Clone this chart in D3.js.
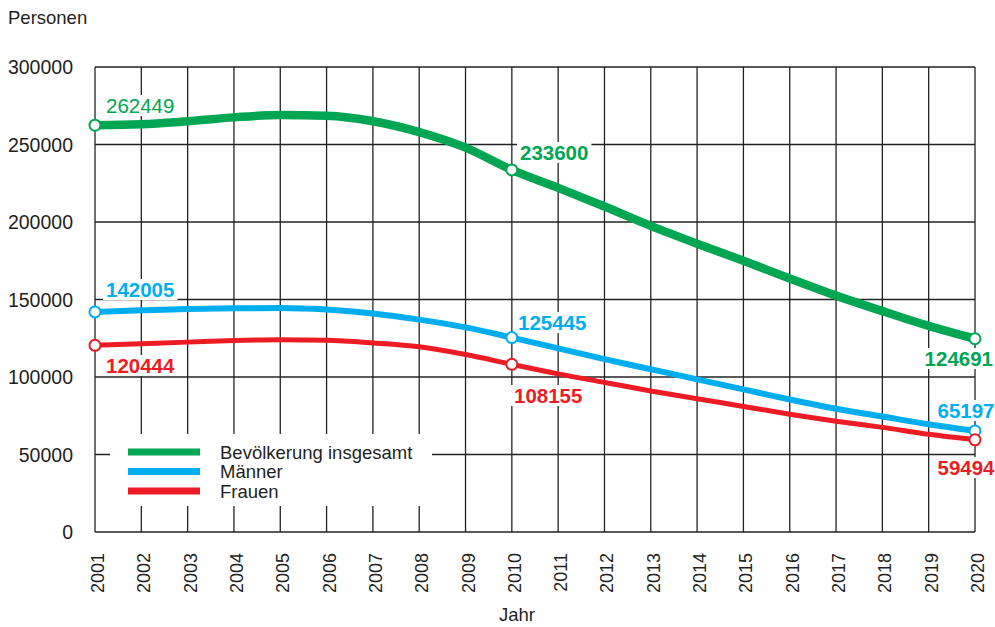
<!DOCTYPE html>
<html>
<head>
<meta charset="utf-8">
<script src="https://cdn.jsdelivr.net/npm/d3@7"></script>
<style>
  body { margin: 0; background: #fff; }
  text { font-family: "Liberation Sans", Arial, sans-serif; }
</style>
</head>
<body>
<svg width="995" height="627" id="mainsvg"></svg>
<script>
const years = d3.range(2001, 2021);
const total = [262449, 263000, 265000, 267500, 269000, 268500, 265000, 258000, 248000, 233600,
               222000, 210000, 197500, 186000, 175000, 163500, 152500, 142500, 133000, 124691];
const men   = [142005, 143000, 143800, 144300, 144500, 143500, 141000, 137000, 132000, 125445,
               118500, 111500, 105000, 98500, 92000, 85500, 79500, 74500, 69500, 65197];
const women = [120444, 121500, 122500, 123500, 124000, 123700, 122000, 119500, 114500, 108155,
               102000, 96500, 91000, 86000, 81000, 76000, 71500, 67500, 63000, 59494];
const yTicks = [0, 50000, 100000, 150000, 200000, 250000, 300000];

const series = [
  {name: "Bevölkerung insgesamt", values: total, color: "#00a651", width: 8.5},
  {name: "Männer", values: men, color: "#00aeef", width: 6},
  {name: "Frauen", values: women, color: "#ed1c24", width: 5}
];

const svg = d3.select('#mainsvg');
const x = d3.scaleLinear().domain([2001, 2020]).range([95, 975]);
const y = d3.scaleLinear().domain([0, 300000]).range([532, 67]);

// grid
const grid = svg.append('g').attr('stroke', '#222').attr('stroke-width', 1.3);
grid.selectAll('line.v').data(years).join('line')
  .attr('x1', d => x(d)).attr('x2', d => x(d))
  .attr('y1', y(300000)).attr('y2', y(0));
grid.selectAll('line.h').data(yTicks).join('line')
  .attr('x1', x(2001)).attr('x2', x(2020))
  .attr('y1', d => y(d)).attr('y2', d => y(d));

// y labels
svg.append('g').selectAll('text').data(yTicks).join('text')
  .attr('x', 73).attr('y', d => y(d) + 7)
  .attr('text-anchor', 'end').attr('font-size', 19.5).attr('fill', '#231f20')
  .text(d => d);

// x labels
svg.append('g').selectAll('text').data(years).join('text')
  .attr('transform', d => `translate(${x(d) + 9},553) rotate(-90)`)
  .attr('text-anchor', 'end').attr('font-size', 18).attr('fill', '#231f20')
  .text(d => d);

svg.append('text').attr('x', 8).attr('y', 24).attr('font-size', 18.5).attr('fill', '#231f20').text('Personen');
svg.append('text').attr('x', 517).attr('y', 621).attr('text-anchor', 'middle')
  .attr('font-size', 18.5).attr('fill', '#231f20').text('Jahr');

// lines
const line = d3.line().x((d, i) => x(years[i])).y(d => y(d)).curve(d3.curveMonotoneX);
series.forEach(s => {
  svg.append('path').attr('d', line(s.values))
    .attr('fill', 'none').attr('stroke', s.color).attr('stroke-width', s.width);
});

// markers
const markIdx = [0, 9, 19];
series.forEach(s => {
  svg.append('g').selectAll('circle').data(markIdx).join('circle')
    .attr('cx', i => x(years[i])).attr('cy', i => y(s.values[i])).attr('r', 5.5)
    .attr('fill', '#fff').attr('stroke', s.color).attr('stroke-width', 2);
});

// value labels [series, index, x, y, bold, anchor]
const labels = [
  [0, 0, 106, 113, false, 'start'],
  [0, 9, 520, 160, true, 'start'],
  [0, 19, 993, 366, true, 'end'],
  [1, 0, 106, 297, true, 'start'],
  [1, 9, 518, 330, true, 'start'],
  [1, 19, 966, 418, true, 'middle'],
  [2, 0, 106, 373, true, 'start'],
  [2, 9, 514, 403, true, 'start'],
  [2, 19, 966, 475, true, 'middle']
];
labels.forEach(([si, i, lx, ly, bold, anchor]) => {
  const g = svg.append('g');
  const t = g.append('text').attr('x', lx).attr('y', ly)
    .attr('text-anchor', anchor).attr('font-size', 20.5)
    .attr('font-weight', bold ? 'bold' : 'normal')
    .attr('fill', series[si].color).text(series[si].values[i]);
  const b = t.node().getBBox();
  g.insert('rect', 'text').attr('x', b.x - 3).attr('y', b.y + 1)
    .attr('width', b.width + 6).attr('height', b.height - 2).attr('fill', '#fff');
});

// legend
const leg = svg.append('g');
leg.append('rect').attr('x', 110).attr('y', 434).attr('width', 322).attr('height', 72).attr('fill', '#fff');
series.forEach((s, k) => {
  const ly = 452 + k * 19.5;
  leg.append('line').attr('x1', 128).attr('x2', 200).attr('y1', ly).attr('y2', ly)
    .attr('stroke', s.color).attr('stroke-width', 7);
  leg.append('text').attr('x', 220).attr('y', ly + 6.5).attr('font-size', 18.5)
    .attr('fill', '#231f20').text(s.name);
});
</script>
</body>
</html>
